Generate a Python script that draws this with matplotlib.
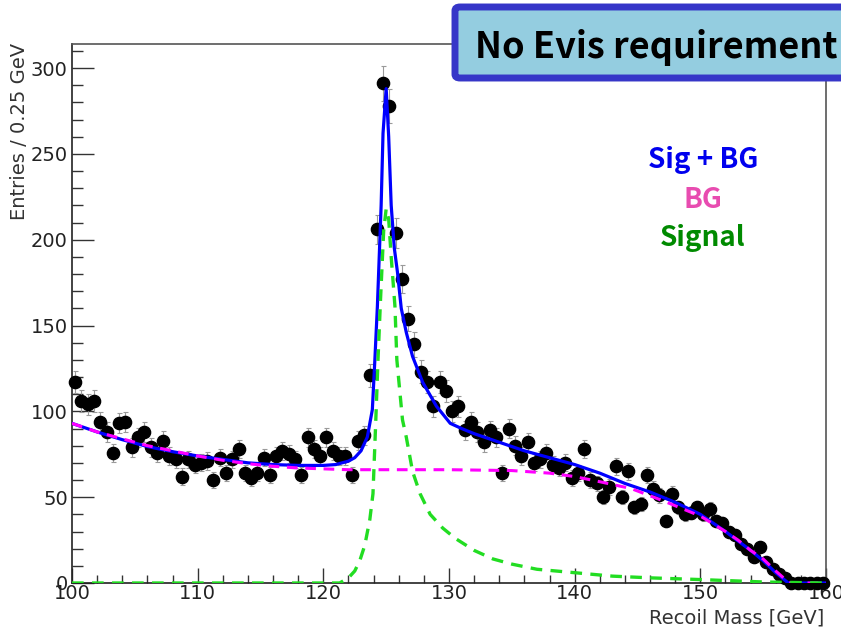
import matplotlib
matplotlib.use('Agg')
import matplotlib.pyplot as plt
from matplotlib.patches import FancyBboxPatch
from matplotlib.ticker import MultipleLocator
import numpy as np

# histogram, 0.5 GeV bins between 100 and 160 GeV
bin_lo = 100.0
bin_w = 0.5
counts = [117, 106, 104, 106, 94, 88, 76, 93, 94, 79,
          85, 88, 79, 76, 83, 74, 72, 62, 72, 69,
          70, 71, 60, 73, 64, 72, 78, 64, 61, 64,
          73, 63, 74, 77, 75, 72, 63, 85, 78, 74,
          85, 77, 74, 74, 63, 83, 86, 121, 206, 291,
          278, 204, 177, 154, 139, 123, 117, 103, 117, 112,
          100, 103, 89, 94, 88, 82, 89, 85, 64, 90,
          80, 74, 82, 70, 72, 76, 69, 67, 70, 61,
          64, 78, 60, 58, 50, 56, 68, 50, 65, 44,
          46, 63, 55, 51, 36, 52, 44, 40, 41, 44,
          40, 43, 36, 35, 30, 28, 23, 20, 15, 21,
          12, 8, 5, 3, 0, 0, 0, 0, 0, 0]

# fitted curves
tot_x = [100, 102, 104, 106, 108, 110, 112, 114, 116, 118, 120, 121, 122, 122.5,
         123, 123.5, 123.9, 124.1, 124.3, 124.6, 124.75, 125.0, 125.2, 125.4,
         125.65, 125.9, 126.2, 126.6, 127.1, 127.9, 129, 130.1, 131, 132, 134,
         136, 138, 140, 142, 144, 146, 148, 150, 152, 154, 155, 156, 157, 160]
tot_y = [93, 88, 83.5, 79.5, 76.5, 74, 72, 70, 69, 68.5, 68.5, 69, 71, 73,
         77, 85, 101, 130, 161, 220, 262, 288, 260, 220,
         195, 181, 160, 146, 132, 117, 103, 93, 90, 87, 82,
         77, 73, 69, 64, 58, 53, 47, 40, 30, 19, 13, 6, 0, 0]

bg_x = [100, 102, 104, 106, 108, 110, 112, 114, 116, 118, 120, 122, 125, 130,
        135, 138, 140, 142, 144.5, 147, 149, 150, 152, 153, 154, 155, 156,
        157, 157.3, 160]
bg_y = [93, 88, 84, 80, 77, 74, 71.5, 69.5, 68, 67, 66.5, 66, 66, 66,
        65.5, 64, 62, 59, 55, 48, 42, 39, 30, 25, 19, 14, 7,
        0.5, 0, 0]

sig_x = [100, 121.3, 122, 122.5, 122.9, 123.3, 123.7, 123.95, 124.15, 124.35,
         124.55, 124.8, 125.0, 125.2, 125.4, 125.7, 125.85, 126.3, 126.6, 127.1,
         127.7, 128.5, 129.5, 130.5, 132, 133.5, 135, 137, 140, 143, 146, 150,
         155, 160]
sig_y = [0, 0, 3, 7, 13, 22, 37, 52, 90, 130,
         165, 205, 218, 212, 190, 161, 130, 95, 85, 65,
         52, 40, 32, 26, 19, 14, 11, 8, 6, 4, 3, 2,
         0.6, 0]

counts = np.array(counts, dtype=float)
centers = bin_lo + bin_w * (np.arange(len(counts)) + 0.5)
errs = 0.6 * np.sqrt(counts)

fig = plt.figure(figsize=(8.41, 6.32), dpi=100)
ax = fig.add_axes([72 / 841, 1 - 583 / 632, (826 - 72) / 841, (583 - 44) / 632])

ax.errorbar(centers, counts, yerr=errs, fmt='none', ecolor='#9a9a9a',
            elinewidth=0.8, capsize=1.8, capthick=0.8, zorder=2)
ax.plot(centers, counts, 'o', color='black', markersize=8.8, zorder=3, clip_on=False)

ax.plot(tot_x, tot_y, color='#0000ff', lw=2.3, zorder=4)
ax.plot(bg_x, bg_y, color='#ff00ff', lw=2.2, ls=(0, (3.5, 2.5)), zorder=5)
ax.plot(sig_x, sig_y, color='#22dd22', lw=2.4, ls=(0, (3.5, 2.5)), zorder=6)

ax.set_xlim(100, 160)
ax.set_ylim(0, 314)

ax.xaxis.set_major_locator(MultipleLocator(10))
ax.xaxis.set_minor_locator(MultipleLocator(2))
ax.yaxis.set_major_locator(MultipleLocator(50))
ax.yaxis.set_minor_locator(MultipleLocator(10))

ax.tick_params(axis='both', which='both', direction='in', top=False, right=False,
               colors='#333333', labelcolor='#222222', labelsize=14, width=1.0)
ax.tick_params(axis='y', which='major', length=16, pad=3)
ax.tick_params(axis='y', which='minor', length=8)
ax.tick_params(axis='x', which='major', length=11, pad=1)
ax.tick_params(axis='x', which='minor', length=6)
for lab in ax.get_xticklabels() + ax.get_yticklabels():
    lab.set_family('DejaVu Sans')

for sp in ax.spines.values():
    sp.set_color('#555555')
    sp.set_linewidth(1.2)
ax.spines['left'].set_color('#222222')
ax.spines['bottom'].set_color('#222222')

fig.text(20 / 841, 1 - 43 / 632, 'Entries / 0.25 GeV', rotation=90, ha='center',
         va='top', fontsize=14, color='#333333', family='DejaVu Sans')
fig.text(824 / 841, 1 - 618 / 632, 'Recoil Mass [GeV]', ha='right', va='center',
         fontsize=14, color='#333333', family='DejaVu Sans')

# legend-like labels
lab_font = ['Noto Sans CJK JP', 'DejaVu Sans']
fig.text(703 / 841, 1 - 160 / 632, 'Sig + BG', ha='center', va='center',
         fontsize=20, fontweight='bold', color='#0000ee', family=lab_font)
fig.text(703 / 841, 1 - 200 / 632, 'BG', ha='center', va='center',
         fontsize=20, fontweight='bold', color='#e84cb0', family=lab_font)
fig.text(703 / 841, 1 - 238 / 632, 'Signal', ha='center', va='center',
         fontsize=20, fontweight='bold', color='#008a00', family=lab_font)

# title box sticking out on the right
box = FancyBboxPatch((455 / 841, 1 - 78 / 632), 420 / 841, 71 / 632,
                     boxstyle='round,pad=0,rounding_size=0.006',
                     transform=fig.transFigure, facecolor='#94cde0',
                     edgecolor='#3636c8', linewidth=5, zorder=10, clip_on=False)
fig.add_artist(box)
fig.text(475 / 841, 1 - 47 / 632, 'No Evis requirement', ha='left', va='center',
         fontsize=26, fontweight='bold', color='black', family=lab_font, zorder=11)

fig.savefig('out.png', dpi=100)
